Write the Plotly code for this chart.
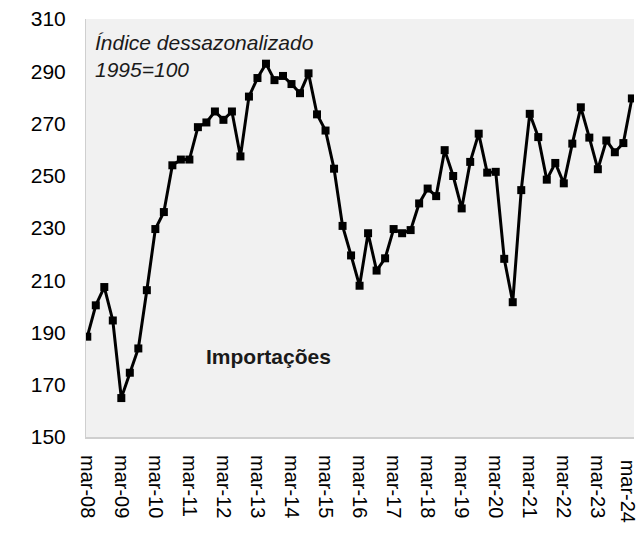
import plotly.graph_objects as go

quarters = [f"{m}-{y:02d}" for y in range(8, 25) for m in ["mar", "jun", "set", "dez"]][:65]
values = [
    188.4, 200.4, 207.4, 194.6, 164.9, 174.6, 183.9, 206.2,
    229.6, 236.1, 254.0, 256.2, 256.2, 268.6, 270.4, 274.6,
    271.4, 274.6, 257.4, 280.3, 287.4, 292.9, 286.6, 288.2,
    285.1, 281.6, 289.2, 273.5, 267.3, 252.7, 230.8, 219.5,
    207.9, 228.0, 213.7, 218.4, 229.6, 228.0, 229.2, 239.4,
    245.1, 242.2, 259.8, 249.9, 237.5, 255.3, 266.1, 251.2,
    251.5, 218.2, 201.6, 244.5, 273.7, 264.8, 248.5, 254.9,
    247.1, 262.3, 276.2, 264.6, 252.5, 263.5, 259.0, 262.5,
    279.6,
]
tick_labels = [q for q in quarters if q.startswith("mar")]
y_ticks = list(range(150, 311, 20))

x_idx = list(range(len(values)))
tick_idx = [i for i, q in enumerate(quarters) if q.startswith("mar")]

FONT = "Liberation Sans, Arial, sans-serif"

fig = go.Figure()
fig.add_trace(go.Scatter(
    x=x_idx, y=values, mode="lines+markers",
    line=dict(color="#000000", width=3),
    marker=dict(symbol="square", size=8, color="#000000"),
    hovertext=quarters, showlegend=False,
))

# last tick label drawn as an annotation so it stays inside the page edge
last_idx, last_lab = tick_idx[-1], tick_labels[-1]

fig.update_layout(
    width=641, height=533,
    margin=dict(l=86, r=7, t=19, b=96),
    paper_bgcolor="white",
    plot_bgcolor="#f1f1f1",
    font=dict(family=FONT, size=21, color="#000000"),
    xaxis=dict(
        range=[-0.15, 64.25], automargin=False,
        tickvals=tick_idx[:-1], ticktext=tick_labels[:-1],
        tickangle=90, showgrid=False, zeroline=False,
        showline=True, linecolor="#cfcfcf", linewidth=2,
        ticks="", ticklabelstandoff=12, ticklabeloverflow="allow",
        tickfont=dict(family=FONT, size=20, color="#000000"),
    ),
    yaxis=dict(
        range=[150, 310], tickvals=y_ticks, automargin=False,
        showgrid=False, zeroline=False,
        showline=True, linecolor="#cfcfcf", linewidth=1,
        ticks="", ticklabelstandoff=15,
        tickfont=dict(family=FONT, size=21, color="#000000"),
    ),
    annotations=[
        dict(text="<i>Índice dessazonalizado<br>1995=100</i>",
             xref="paper", yref="paper", x=0.012, y=0.975,
             xanchor="left", yanchor="top", align="left", showarrow=False,
             font=dict(family=FONT, size=21, color="#1a1a1a")),
        dict(text="<b>Importações</b>",
             xref="x", yref="y", x=21.3, y=181,
             xanchor="center", yanchor="middle", showarrow=False,
             font=dict(family=FONT, size=21, color="#1a1a1a")),
        dict(text=last_lab, textangle=90,
             xref="x", yref="paper", x=last_idx, y=0,
             xanchor="center", yanchor="top", xshift=-3, yshift=-22,
             showarrow=False, borderpad=0,
             font=dict(family=FONT, size=20, color="#000000")),
    ],
)

fig.write_html("out.html", config={"displayModeBar": False},
               post_script="document.body.style.margin='0px';")
